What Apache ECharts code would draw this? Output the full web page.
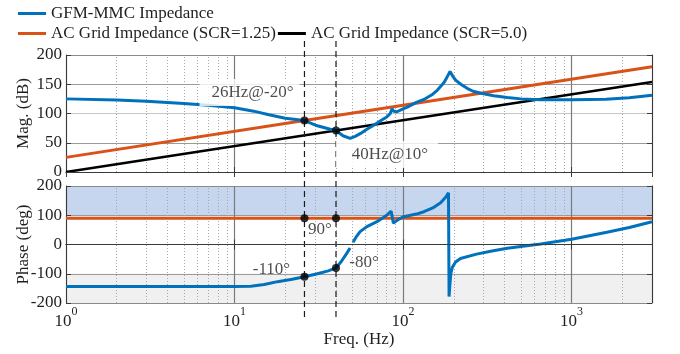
<!DOCTYPE html>
<html>
<head>
<meta charset="utf-8">
<script src="https://cdn.jsdelivr.net/npm/echarts@6/dist/echarts.min.js"></script>
<style>
  html, body { margin: 0; padding: 0; background: #fff; }
  #chart { width: 680px; height: 354px; }
</style>
</head>
<body>
<div id="chart"></div>
<script>
// ---- Bode data: GFM-MMC impedance vs. AC grid impedance ----
const magFreq = [1, 2, 3, 5, 7, 10, 13, 16, 20, 26, 31, 37, 40, 44, 48.5, 52, 56, 61, 67, 74, 80, 84, 86, 88, 92, 100, 106, 120, 133, 150, 160, 175, 183, 190, 197, 205, 220, 240, 260, 290, 345, 415, 500, 650, 1000, 1600, 2200, 3000];
const magGFM = [125, 123, 121, 117, 114, 110, 104, 98, 92, 88, 79, 73, 71, 62, 57.5, 61, 66, 73, 80, 88, 94, 100, 108, 104, 103, 108, 111, 119, 124, 133, 140, 153, 163, 172, 164, 157, 150, 143, 138, 134.5, 130.5, 127.5, 125, 123.5, 123.5, 124.5, 127, 131];

const phFreq = [1, 5, 10, 12.5, 15, 18, 22, 26, 31, 36, 40, 43, 46, 48.5, 49.5, 50.5, 53, 55.6, 61, 70, 80, 85, 87.6, 94, 101, 120, 133, 150, 167, 180, 186, 187.5, 189.5, 192, 196, 205, 219, 273, 331, 415, 655, 1000, 1620, 2200, 3000];
const phGFM = [-144, -144, -144, -143, -137, -127, -119, -110, -100, -90, -80, -58, -33, -12, '-', 8, 28, 44, 61, 78, 100, 114, 73, 86, 95, 104, 112, 125, 143, 163, 177, -178, -140, -100, -78, -60, -48, -33, -23, -13, 2, 18, 42, 58, 78];

const grid125Freq = [1, 26, 3000];
const grid125Mag = [25, 88, 180];
const grid50Freq = [1, 40, 3000];
const grid50Mag = [0, 71, 154];
const gridPhFreq = [1, 3000];
const gridPh = [90, 90];

// intersection points
const crossFreq = [26, 40];
const crossMag = [88, 71];
const crossText = ['26Hz@-20°', '40Hz@10°'];
const crossGridPh = [90, 90];
const crossGFMPh = [-110, -80];
const phaseText = ['-110°', '-80°'];
const gridPhText = '90°';

const minorHz = [2, 3, 4, 5, 6, 7, 8, 9, 20, 30, 40, 50, 60, 70, 80, 90, 200, 300, 400, 500, 600, 700, 800, 900, 2000];
const magTicks = { min: 0, max: 200, step: 50 };
const phTicks = { min: -200, max: 200, step: 100 };

const names = ['GFM-MMC Impedance', 'AC Grid Impedance (SCR=1.25)', 'AC Grid Impedance (SCR=5.0)'];

// ---- styling ----
const FONT = '"Liberation Serif", "Times New Roman", serif';
const TXT = '#1f1f1f';
const BLUE = '#0072BD', ORANGE = '#D95319', BLACK = '#000000';
const pair = (xs, ys) => xs.map((x, i) => [x, ys[i]]);

const frame = { color: '#3a3a3a', width: 1 };
const minorLine = {
  z: 1, silent: true, symbol: ['none', 'none'], animation: false,
  label: { show: false },
  lineStyle: { type: [1, 2], color: '#a8a8a8', width: 1 },
  emphasis: { disabled: true },
  data: minorHz.map(v => ({ xAxis: v }))
};

function xMain(gi, labels) {
  return {
    type: 'log', logBase: 10, min: 1, max: 3000, gridIndex: gi, z: 1,
    axisLine: { show: true, lineStyle: frame },
    axisTick: { show: true, inside: true, length: 5, lineStyle: frame },
    splitLine: { show: true, lineStyle: { color: '#7a7a7a', width: 1.2 } },
    axisLabel: labels ? {
      show: true, margin: 3, color: TXT,
      formatter: v => {
        const lg = Math.log10(v), e = Math.round(lg);
        if (Math.abs(lg - e) > 1e-6) return '';
        return '{b|10}{s|' + e + '}';
      },
      rich: {
        b: { fontFamily: FONT, fontSize: 17, color: TXT, lineHeight: 24, verticalAlign: 'bottom' },
        s: { fontFamily: FONT, fontSize: 12, color: TXT, lineHeight: 12, verticalAlign: 'top' }
      }
    } : { show: false },
    name: labels ? 'Freq. (Hz)' : '',
    nameLocation: 'middle', nameGap: 27,
    nameTextStyle: { fontFamily: FONT, fontSize: 17, color: TXT }
  };
}
function xFrame(gi) {
  return {
    type: 'log', logBase: 10, min: 1, max: 3000, gridIndex: gi, position: 'top', z: 4,
    axisLine: { show: true, lineStyle: frame },
    axisTick: { show: true, inside: true, length: 5, lineStyle: frame },
    splitLine: { show: false }, axisLabel: { show: false }
  };
}
function yMain(gi, t, name) {
  return {
    type: 'value', gridIndex: gi, min: t.min, max: t.max, interval: t.step, z: 1,
    axisLine: { show: true, lineStyle: frame },
    axisTick: { show: true, inside: true, length: 5, lineStyle: frame },
    splitLine: { show: true, lineStyle: { color: ['#8a8a8a', '#9a9a9a', '#c6c6c6', '#9a9a9a', '#8a8a8a'], width: 1.2 } },
    axisLabel: { margin: 4, color: TXT, fontFamily: FONT, fontSize: 17 },
    name: name, nameLocation: 'middle', nameGap: 34, nameMoveOverlap: false,
    nameTextStyle: { fontFamily: FONT, fontSize: 17, color: TXT }
  };
}
function yFrame(gi, t) {
  return {
    type: 'value', gridIndex: gi, min: t.min, max: t.max, interval: t.step, position: 'right', z: 4,
    axisLine: { show: true, lineStyle: frame },
    axisTick: { show: true, inside: true, length: 5, lineStyle: frame },
    splitLine: { show: false }, axisLabel: { show: false }
  };
}

const annot = {
  show: true, fontFamily: FONT, fontSize: 17, color: TXT
};

const option = {
  animation: false,
  legend: [
    {
      data: [names[0]], left: 13, top: 0, icon: 'rect', itemWidth: 28, itemHeight: 3, itemGap: 2,
      textStyle: { fontFamily: FONT, fontSize: 17, color: TXT }
    },
    {
      data: [names[1], names[2]], left: 13, top: 20, icon: 'rect', itemWidth: 28, itemHeight: 3, itemGap: 2,
      textStyle: { fontFamily: FONT, fontSize: 17, color: TXT }
    }
  ],
  grid: [
    { left: 66, right: 28, top: 55, height: 117 },
    { left: 66, right: 28, top: 186, height: 117 },
    { left: 66, right: 28, top: 41, bottom: 37 }
  ],
  xAxis: [xMain(0, false), xFrame(0), xMain(1, true), xFrame(1),
    { type: 'log', logBase: 10, min: 1, max: 3000, gridIndex: 2, show: false }],
  yAxis: [yMain(0, magTicks, 'Mag. (dB)'), yFrame(0, magTicks), yMain(1, phTicks, 'Phase (deg)'), yFrame(1, phTicks),
    { type: 'value', gridIndex: 2, min: 0, max: 1, show: false }],
  series: [
    // magnitude
    {
      name: names[1], type: 'line', xAxisIndex: 0, yAxisIndex: 0, z: 2,
      data: pair(grid125Freq, grid125Mag), showSymbol: false, silent: true,
      itemStyle: { color: ORANGE }, lineStyle: { color: ORANGE, width: 3 },
      markLine: minorLine
    },
    {
      name: names[2], type: 'line', xAxisIndex: 0, yAxisIndex: 0, z: 2,
      data: pair(grid50Freq, grid50Mag), showSymbol: false, silent: true,
      itemStyle: { color: BLACK }, lineStyle: { color: BLACK, width: 2.6 }
    },
    {
      name: names[0], type: 'line', xAxisIndex: 0, yAxisIndex: 0, z: 2,
      data: pair(magFreq, magGFM), showSymbol: false, silent: true,
      itemStyle: { color: BLUE }, lineStyle: { color: BLUE, width: 3 }
    },
    // phase
    {
      name: names[1], type: 'line', xAxisIndex: 2, yAxisIndex: 2, z: 2,
      data: pair(gridPhFreq, gridPh), showSymbol: false, silent: true,
      itemStyle: { color: ORANGE }, lineStyle: { color: ORANGE, width: 3 },
      markLine: minorLine,
      markArea: {
        z: 0, silent: true, animation: false,
        data: [
          [{ yAxis: 100, itemStyle: { color: '#c5d6ee' } }, { yAxis: 200 }],
          [{ yAxis: -200, itemStyle: { color: '#f0f0f0' } }, { yAxis: -100 }]
        ]
      }
    },
    {
      name: names[0], type: 'line', xAxisIndex: 2, yAxisIndex: 2, z: 2,
      data: pair(phFreq, phGFM), showSymbol: false, silent: true, connectNulls: false,
      itemStyle: { color: BLUE }, lineStyle: { color: BLUE, width: 3 }
    },
    // dashed markers spanning both plots
    ...crossFreq.map(f => ({
      type: 'line', xAxisIndex: 4, yAxisIndex: 4, z: 2.5, silent: true, showSymbol: false,
      data: [[f, 0], [f, 1]],
      lineStyle: { color: '#1a1a1a', width: 1.2, type: [6, 4] }
    })),
    // intersection dots with annotations
    {
      type: 'scatter', xAxisIndex: 0, yAxisIndex: 0, z: 3, silent: true,
      symbolSize: 8, itemStyle: { color: '#000' },
      data: [
        { value: [crossFreq[0], crossMag[0]],
          label: Object.assign({}, annot, { position: 'inside', offset: [-55, -28], formatter: crossText[0],
            backgroundColor: '#fff', padding: [6, 6, 4, 12] }) },
        { value: [crossFreq[1], crossMag[1]],
          label: Object.assign({}, annot, { position: 'inside', offset: [51, 24], formatter: crossText[1],
            backgroundColor: '#fff', padding: [2, 10, 8, 16] }) }
      ]
    },
    {
      type: 'scatter', xAxisIndex: 2, yAxisIndex: 2, z: 3, silent: true,
      symbolSize: 8, itemStyle: { color: '#000' },
      data: [
        { value: [crossFreq[0], crossGridPh[0]] },
        { value: [crossFreq[1], crossGridPh[1]],
          label: Object.assign({}, annot, { position: 'inside', offset: [-16, 11], formatter: gridPhText }) },
        { value: [crossFreq[0], crossGFMPh[0]],
          label: Object.assign({}, annot, { position: 'inside', offset: [-33, -7], formatter: phaseText[0] }) },
        { value: [crossFreq[1], crossGFMPh[1]],
          label: Object.assign({}, annot, { position: 'inside', offset: [28, -5], formatter: phaseText[1] }) }
      ]
    }
  ]
};

const chart = echarts.init(document.getElementById('chart'), null, { renderer: 'canvas' });
chart.setOption(option);
</script>
</body>
</html>
